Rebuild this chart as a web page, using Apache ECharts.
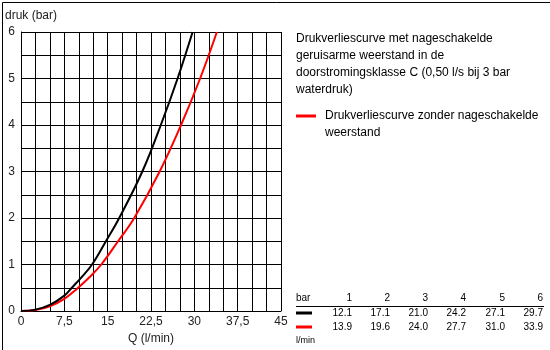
<!DOCTYPE html>
<html>
<head>
<meta charset="utf-8">
<script src="https://cdn.jsdelivr.net/npm/echarts@6/dist/echarts.min.js"></script>
<style>
html,body{margin:0;padding:0;background:#fff;}
#c{width:550px;height:350px;}
</style>
</head>
<body>
<div id="c"></div>
<script>
// Curve data: Q (l/min) -> druk (bar)
const blackQ = [0, 2.5, 5, 7.5, 8.8, 10.5, 12.3, 14.7, 17.0, 21.0, 24.2, 27.1, 29.7];
const blackP = [0, 0.03, 0.13, 0.33, 0.5, 0.73, 1, 1.5, 2, 3, 4, 5, 6];
const redQ = [0, 2.5, 5, 7.5, 9.7, 11.8, 13.9, 16.8, 19.6, 24.0, 27.7, 31.0, 33.9];
const redP = [0, 0.02, 0.1, 0.26, 0.48, 0.72, 1, 1.5, 2, 3, 4, 5, 6];

// Table
const tableBar = [1, 2, 3, 4, 5, 6];
const tableBlack = ['12.1', '17.1', '21.0', '24.2', '27.1', '29.7'];
const tableRed = ['13.9', '19.6', '24.0', '27.7', '31.0', '33.9'];

const legendBlackLines = [
  'Drukverliescurve met nageschakelde',
  'geruisarme weerstand in de',
  'doorstromingsklasse C (0,50 l/s bij 3 bar',
  'waterdruk)'
];
const legendRedLines = ['Drukverliescurve zonder nageschakelde', 'weerstand'];

const FONT = '"Liberation Sans", Arial, sans-serif';

const chart = echarts.init(document.getElementById('c'));

const graphics = [];
graphics.push({type:'rect', left:0, top:0, shape:{x:0.5,y:0.5,width:549,height:349}, style:{fill:'none', stroke:'#000', lineWidth:1}, silent:true});
graphics.push({type:'text', left:5, top:10, style:{text:'druk (bar)', font:'12px ' + FONT, fill:'#222'}});
legendBlackLines.forEach((t, i) => {
  graphics.push({type:'text', left:296, top:33 + i*17, style:{text:t, font:'12px ' + FONT, fill:'#000'}});
});
graphics.push({type:'line', shape:{x1:296, y1:116, x2:316, y2:116}, style:{stroke:'#ff0000', lineWidth:3}});
legendRedLines.forEach((t, i) => {
  graphics.push({type:'text', left:325, top:110 + i*17, style:{text:t, font:'12px ' + FONT, fill:'#000'}});
});
const colX = [352, 390, 428, 466, 505, 543];
graphics.push({type:'text', x:296, y:298, style:{text:'bar', font:'10px ' + FONT, fill:'#000', verticalAlign:'middle'}});
tableBar.forEach((v, i) => {
  graphics.push({type:'text', x:colX[i], y:298, style:{text:String(v), font:'10px ' + FONT, fill:'#000', align:'right', verticalAlign:'middle'}});
});
graphics.push({type:'line', shape:{x1:296, y1:306.5, x2:544, y2:306.5}, style:{stroke:'#000', lineWidth:1}});
graphics.push({type:'line', shape:{x1:296, y1:313, x2:312, y2:313}, style:{stroke:'#000', lineWidth:3}});
graphics.push({type:'line', shape:{x1:296, y1:327, x2:312, y2:327}, style:{stroke:'#ff0000', lineWidth:3}});
tableBlack.forEach((v, i) => {
  graphics.push({type:'text', x:colX[i], y:313, style:{text:v, font:'10px ' + FONT, fill:'#000', align:'right', verticalAlign:'middle'}});
});
tableRed.forEach((v, i) => {
  graphics.push({type:'text', x:colX[i], y:327, style:{text:v, font:'10px ' + FONT, fill:'#000', align:'right', verticalAlign:'middle'}});
});
graphics.push({type:'text', x:296, y:341, style:{text:'l/min', font:'9px ' + FONT, fill:'#000', verticalAlign:'middle'}});

chart.setOption({
  animation: false,
  backgroundColor: '#ffffff',
  grid: {left: 21, right: 269, top: 32, bottom: 38},
  xAxis: {
    type: 'value', min: 0, max: 45, interval: 2.5,
    name: 'Q (l/min)', nameLocation: 'middle', nameGap: 22,
    nameTextStyle: {fontFamily: FONT, fontSize: 12, color: '#222'},
    axisLine: {show: true, lineStyle: {color: '#000', width: 1}},
    axisTick: {show: false},
    axisLabel: {
      fontFamily: FONT, fontSize: 12, color: '#222', margin: 5,
      showMinLabel: true, showMaxLabel: true,
      formatter: v => (Math.abs(v / 7.5 - Math.round(v / 7.5)) < 1e-6) ? String(v).replace('.', ',') : ''
    },
    splitLine: {show: true, lineStyle: {color: '#000', width: 1}}
  },
  yAxis: {
    type: 'value', min: 0, max: 6, interval: 0.5,
    axisLine: {show: true, lineStyle: {color: '#000', width: 1}},
    axisTick: {show: false},
    axisLabel: {
      fontFamily: FONT, fontSize: 12, color: '#222', margin: 6,
      formatter: v => Number.isInteger(v) ? String(v) : ''
    },
    splitLine: {show: true, lineStyle: {color: '#000', width: 1}}
  },
  series: [
    {
      type: 'line', name: 'zonder', smooth: 0.4, showSymbol: false,
      data: redQ.map((q, i) => [q, redP[i]]),
      lineStyle: {color: '#ff0000', width: 2}, z: 3
    },
    {
      type: 'line', name: 'met', smooth: 0.4, showSymbol: false,
      data: blackQ.map((q, i) => [q, blackP[i]]),
      lineStyle: {color: '#000000', width: 2}, z: 4
    }
  ],
  graphic: graphics
});
</script>
</body>
</html>
